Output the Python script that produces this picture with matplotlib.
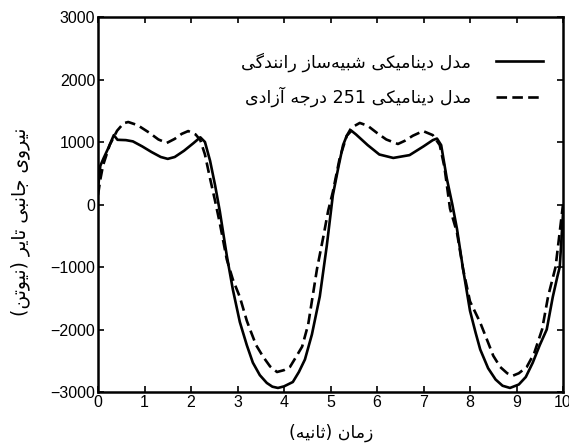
import matplotlib
matplotlib.use("Agg")
import matplotlib.pyplot as plt

# ---------------- data ----------------
x_solid = [0, 0.05, 0.12, 0.22, 0.34, 0.42, 0.6, 0.75, 0.95, 1.15, 1.35, 1.5, 1.65, 1.85,
           2.05, 2.2, 2.3, 2.41, 2.52, 2.62, 2.77, 2.9, 3.05, 3.2, 3.33, 3.48, 3.63, 3.75,
           3.87, 4.0, 4.19, 4.32, 4.45, 4.6, 4.77, 4.92, 5.05, 5.17, 5.27, 5.35, 5.45, 5.55,
           5.8, 6.05, 6.35, 6.7, 7.0, 7.2, 7.29, 7.38, 7.5, 7.62, 7.72, 7.85, 8.0, 8.12,
           8.22, 8.39, 8.55, 8.7, 8.86, 9.05, 9.2, 9.35, 9.5, 9.65, 9.78, 9.88, 9.93, 10]
y_solid = [250, 620, 740, 900, 1110, 1035, 1030, 1010, 930, 840, 760, 730, 760, 860,
           980, 1075, 1000, 700, 300, -110, -820, -1360, -1880, -2250, -2530, -2730, -2855, -2915,
           -2935, -2910, -2840, -2680, -2480, -2080, -1470, -660, 145, 600, 950, 1100, 1180, 1120,
           950, 800, 745, 790, 930, 1030, 1055, 950, 420, 0, -390, -1030, -1700, -2050,
           -2320, -2620, -2800, -2900, -2935, -2880, -2760, -2530, -2250, -2000, -1480, -1150, -1000, -150]

x_dashed = [0, 0.05, 0.11, 0.25, 0.41, 0.55, 0.65, 0.85, 1.1, 1.3, 1.48, 1.65, 1.8, 1.94,
            2.1, 2.2, 2.3, 2.4, 2.52, 2.62, 2.77, 2.9, 3.05, 3.2, 3.27, 3.4, 3.55, 3.7, 3.85,
            4.0, 4.13, 4.25, 4.39, 4.52, 4.71, 4.85, 4.95, 5.05, 5.2, 5.35, 5.45, 5.63, 5.8,
            6.0, 6.2, 6.45, 6.6, 6.77, 6.99, 7.2, 7.35, 7.45, 7.57, 7.72, 7.85, 8.0, 8.22,
            8.39, 8.5, 8.65, 8.8, 8.92, 9.05, 9.22, 9.38, 9.55, 9.68, 9.84, 10]
y_dashed = [150, 400, 630, 950, 1180, 1300, 1320, 1270, 1150, 1040, 985, 1050, 1130, 1175,
            1120, 1030, 800, 450, 50, -300, -880, -1200, -1480, -1860, -2000, -2250, -2435, -2590, -2680,
            -2650, -2597, -2450, -2274, -1920, -1030, -500, -100, 200, 750, 1100, 1230, 1305, 1260,
            1145, 1040, 968, 1020, 1100, 1175, 1110, 950, 600, -65, -450, -1030, -1550, -1890,
            -2210, -2420, -2600, -2700, -2740, -2700, -2600, -2380, -2000, -1470, -1000, 0]

x_ticks = list(range(0, 11))
y_ticks = [-3000, -2000, -1000, 0, 1000, 2000, 3000]

label_solid = "مدل دینامیکی شبیه\u200cساز رانندگی"
label_dashed = "مدل دینامیکی 251 درجه آزادی"
ylabel_text = "نیروی جانبی تایر (نیوتن)"
xlabel_text = "زمان (ثانیه)"

# ---------------- simple Persian shaping ----------------
FORMS = {  # isolated, final, initial, medial
    '\u0627': ('\uFE8D', '\uFE8E', None, None),
    '\u0622': ('\uFE81', '\uFE82', None, None),
    '\u0628': ('\uFE8F', '\uFE90', '\uFE91', '\uFE92'),
    '\u062A': ('\uFE95', '\uFE96', '\uFE97', '\uFE98'),
    '\u062B': ('\uFE99', '\uFE9A', '\uFE9B', '\uFE9C'),
    '\u062C': ('\uFE9D', '\uFE9E', '\uFE9F', '\uFEA0'),
    '\u062F': ('\uFEA9', '\uFEAA', None, None),
    '\u0631': ('\uFEAD', '\uFEAE', None, None),
    '\u0632': ('\uFEAF', '\uFEB0', None, None),
    '\u0633': ('\uFEB1', '\uFEB2', '\uFEB3', '\uFEB4'),
    '\u0634': ('\uFEB5', '\uFEB6', '\uFEB7', '\uFEB8'),
    '\u0644': ('\uFEDD', '\uFEDE', '\uFEDF', '\uFEE0'),
    '\u0645': ('\uFEE1', '\uFEE2', '\uFEE3', '\uFEE4'),
    '\u0646': ('\uFEE5', '\uFEE6', '\uFEE7', '\uFEE8'),
    '\u0647': ('\uFEE9', '\uFEEA', '\uFEEB', '\uFEEC'),
    '\u0648': ('\uFEED', '\uFEEE', None, None),
    '\u06A9': ('\uFB8E', '\uFB8F', '\uFB90', '\uFB91'),
    '\u06AF': ('\uFB92', '\uFB93', '\uFB94', '\uFB95'),
    '\u06CC': ('\uFBFC', '\uFBFD', '\uFBFE', '\uFBFF'),
}


def joins_next(c):
    f = FORMS.get(c)
    return f is not None and f[2] is not None


def shape(text):
    out = []
    n = len(text)
    for i, c in enumerate(text):
        f = FORMS.get(c)
        if f is None:
            if c != '\u200c':
                out.append(c)
            continue
        prev_j = i > 0 and joins_next(text[i - 1])
        next_j = i + 1 < n and text[i + 1] in FORMS and f[2] is not None
        if prev_j and next_j:
            out.append(f[3])
        elif prev_j:
            out.append(f[1])
        elif next_j:
            out.append(f[2])
        else:
            out.append(f[0])
    s = ''.join(out)
    # visual reorder (RTL with LTR digit runs)
    runs = []
    for ch in s:
        isd = ch.isdigit()
        if runs and runs[-1][0] == isd:
            runs[-1][1].append(ch)
        else:
            runs.append([isd, [ch]])
    vis = []
    for isd, chars in reversed(runs):
        if isd:
            vis.extend(chars)
        else:
            for ch in reversed(chars):
                vis.append({'(': ')', ')': '('}.get(ch, ch))
    return ''.join(vis)


# ---------------- figure ----------------
plt.rcParams['font.family'] = ['Liberation Sans', 'DejaVu Sans']
W, H = 569, 443
fig = plt.figure(figsize=(W / 100, H / 100), dpi=100)
ax = fig.add_axes([98 / W, 1 - 392 / H, 465 / W, 375 / H])

ax.plot(x_solid, y_solid, color='black', lw=1.9, label=shape(label_solid))
ax.plot(x_dashed, y_dashed, color='black', lw=1.9, linestyle=(0, (4, 2)),
        label=shape(label_dashed))

ax.set_xlim(0, 10)
ax.set_ylim(-3000, 3000)
ax.set_xticks(x_ticks)
ax.set_yticks(y_ticks)
ax.tick_params(direction='in', top=True, right=True, length=4, width=1.2,
               labelsize=11.5, pad=2)
for sp in ax.spines.values():
    sp.set_linewidth(1.8)

fig.text(331 / W, 1 - 433 / H, shape(xlabel_text), family=['DejaVu Sans'], size=12.5,
         ha='center', va='center')
fig.text(20 / W, 1 - 222 / H, shape(ylabel_text), family=['DejaVu Sans'], size=13.5,
         ha='center', va='center', rotation=90)

leg = ax.legend(loc='upper right', bbox_to_anchor=(0.976, 0.93), frameon=False,
                markerfirst=False, prop={'family': 'DejaVu Sans', 'size': 12.6},
                handlelength=2.7, handletextpad=1.4, labelspacing=0.85, borderpad=0)

fig.savefig('out.png', dpi=100)
